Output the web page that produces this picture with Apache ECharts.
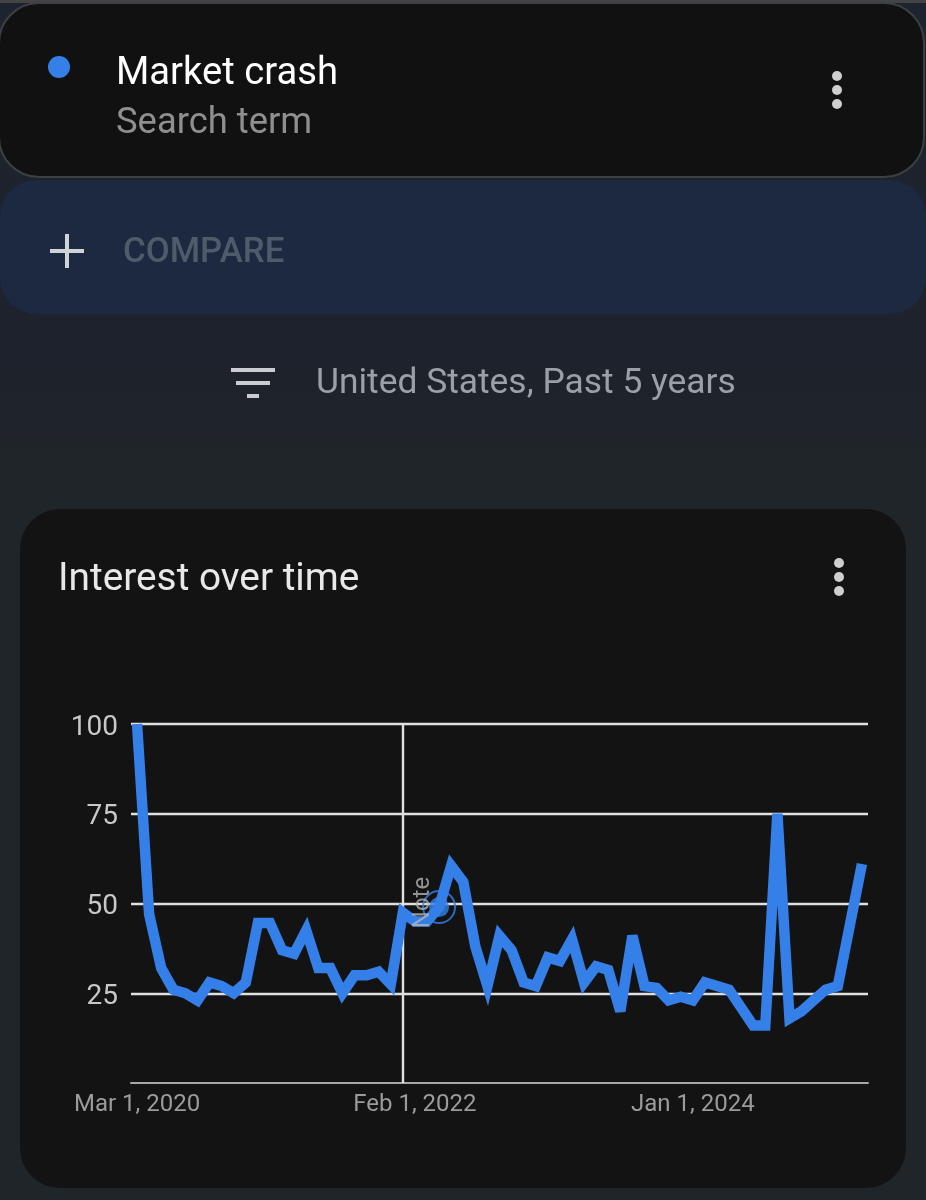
<!DOCTYPE html>
<html>
<head>
<meta charset="utf-8">
<title>Interest over time</title>
<script src="https://cdn.jsdelivr.net/npm/echarts@6/dist/echarts.min.js"></script>
<style>html,body{margin:0;padding:0;background:#20252a}#c{width:926px;height:1200px}</style>
</head>
<body>
<div id="c"></div>
<script>
const months = ['Mar 1, 2020','Apr 1, 2020','May 1, 2020','Jun 1, 2020','Jul 1, 2020','Aug 1, 2020','Sep 1, 2020','Oct 1, 2020','Nov 1, 2020','Dec 1, 2020',
'Jan 1, 2021','Feb 1, 2021','Mar 1, 2021','Apr 1, 2021','May 1, 2021','Jun 1, 2021','Jul 1, 2021','Aug 1, 2021','Sep 1, 2021','Oct 1, 2021','Nov 1, 2021','Dec 1, 2021',
'Jan 1, 2022','Feb 1, 2022','Mar 1, 2022','Apr 1, 2022','May 1, 2022','Jun 1, 2022','Jul 1, 2022','Aug 1, 2022','Sep 1, 2022','Oct 1, 2022','Nov 1, 2022','Dec 1, 2022',
'Jan 1, 2023','Feb 1, 2023','Mar 1, 2023','Apr 1, 2023','May 1, 2023','Jun 1, 2023','Jul 1, 2023','Aug 1, 2023','Sep 1, 2023','Oct 1, 2023','Nov 1, 2023','Dec 1, 2023',
'Jan 1, 2024','Feb 1, 2024','Mar 1, 2024','Apr 1, 2024','May 1, 2024','Jun 1, 2024','Jul 1, 2024','Aug 1, 2024','Sep 1, 2024','Oct 1, 2024','Nov 1, 2024','Dec 1, 2024',
'Jan 1, 2025','Feb 1, 2025','Mar 1, 2025'];
const interest = [100,47,32,26,25,23,28,27,25,28,
44.6,44.6,37,36,42.5,32,32,25,30,30,31,27.5,
47.5,45,45,49,60.5,56,38,27,41,37,28,27,
35,34,40,28,32.5,31.5,20,41,27,26.5,23,24,
23,28,27,26,21,16,16,75,18,20,23,26,
27,44,61];
const yTicks = [0,25,50,75,100];
const shownMonths = ['Mar 1, 2020','Feb 1, 2022','Jan 1, 2024'];
const noteMonth = 'Jan 1, 2022';
const markerMonth = 'Apr 1, 2022';
const noteLabelMonth = 'Mar 1, 2022';

const FONT = 'Roboto, "Noto Sans", sans-serif';
const BLUE = '#3580e8';
function txt(x, y, text, size, fill, weight) {
  return {type:'text', x, y, z:5, silent:true,
    style:{text, fill, font:(weight||'400')+' '+size+'px '+FONT, verticalAlign:'middle', align:'left'}};
}
function box(x, y, w, h, r, fill, stroke, z) {
  return {type:'rect', z:z, silent:true, shape:{x,y,width:w,height:h,r},
    style:{fill, stroke:stroke||null, lineWidth:stroke?2:0}};
}
function dot(x, y, r, fill) {
  return {type:'circle', z:5, silent:true, shape:{cx:x,cy:y,r}, style:{fill}};
}
const chart = echarts.init(document.getElementById('c'), null, {renderer:'canvas', width:926, height:1200});
chart.setOption({
  animation:false,
  backgroundColor:'#20252a',
  graphic:{elements:[
    {type:'rect', z:-10, silent:true, shape:{x:0,y:0,width:926,height:460},
      style:{fill:{type:'linear',x:0,y:0,x2:0,y2:1,colorStops:[{offset:0,color:'#1d2430'},{offset:0.8,color:'#1e222b'},{offset:1,color:'#20252a'}]}}},
    box(0,0,926,3,0,'#444444',null,-9),
    box(0,180,926,134,36,'#1c2940',null,-8),
    box(-1,3,925,174,40,'#111111','#3c3f44',-7),
    box(20,509,886,679,40,'#131313',null,-8),
    dot(59,67,11,BLUE),
    txt(116,74,'Market crash',38.2,'#ffffff'),
    txt(116,124,'Search term',36.4,'#8f8f8f'),
    dot(837,76,5,'#cfcfcf'), dot(837,90,5,'#cfcfcf'), dot(837,104,5,'#cfcfcf'),
    box(50,249,34,4,0,'#d0d3d6',null,5),
    box(65,234,4,34,0,'#d0d3d6',null,5),
    txt(123,253,'COMPARE',34.8,'#4f5a6b','500'),
    box(231,368,44,4,0,'#c9ccd0',null,5),
    box(236,381,34,4,0,'#c9ccd0',null,5),
    box(247,394,12,4,0,'#c9ccd0',null,5),
    txt(316,384,'United States, Past 5 years',35.4,'#9aa0a6'),
    txt(58,580,'Interest over time',38.8,'#e8e8e8'),
    dot(839,563,5,'#cfcfcf'), dot(839,577,5,'#cfcfcf'), dot(839,591,5,'#cfcfcf')
  ]},
  grid:{left:131, top:724, width:737, height:359, containLabel:false},
  xAxis:{
    type:'category', data:months, boundaryGap:true,
    axisLine:{show:true, onZero:false, lineStyle:{color:'#a8a8a8', width:2}},
    axisTick:{show:false},
    splitLine:{show:false},
    axisLabel:{
      show:true, color:'#9b9b9b', fontFamily:FONT, fontSize:24, margin:10, hideOverlap:false,
      interval:(i, v)=>shownMonths.includes(v)
    }
  },
  yAxis:{
    type:'value', min:yTicks[0], max:yTicks[4], interval:yTicks[1]-yTicks[0],
    axisLine:{show:false}, axisTick:{show:false},
    splitLine:{show:true, showMinLine:false, lineStyle:{color:'#e0e0e0', width:2.4}},
    axisLabel:{margin:13, formatter:v=>v===0?'':'{a|'+v+'}',
      rich:{a:{color:'#c8c8c8', fontFamily:FONT, fontSize:28, padding:[7,0,0,0]}}}
  },
  series:[
    {
      type:'line', name:'Market crash', data:interest, showSymbol:false, symbol:'none', z:3,
      lineStyle:{color:BLUE, width:10.5, cap:'butt', join:'miter', miterLimit:4.5},
      markLine:{
        silent:true, symbol:'none', label:{show:false}, animation:false, z:2,
        lineStyle:{color:'#e0e0e0', width:2.4, type:'solid'},
        data:[{xAxis:noteMonth}]
      }
    },
    {
      type:'scatter', z:4, silent:true, symbol:'circle', symbolSize:20,
      itemStyle:{color:BLUE},
      data:[[markerMonth, interest[months.indexOf(markerMonth)]]]
    },
    {
      type:'scatter', z:4, silent:true, symbol:'circle', symbolSize:32,
      itemStyle:{color:'rgba(0,0,0,0)', borderColor:BLUE, borderWidth:2},
      data:[[markerMonth, interest[months.indexOf(markerMonth)]]]
    },
    {
      type:'scatter', z:5, silent:true, symbolSize:0,
      data:[[noteLabelMonth, 50]],
      label:{show:true, position:'inside', formatter:'Note', rotate:90, color:'#b4b4b4',
        fontFamily:FONT, fontSize:24, offset:[1,-4]}
    }
  ]
});
</script>
</body>
</html>
